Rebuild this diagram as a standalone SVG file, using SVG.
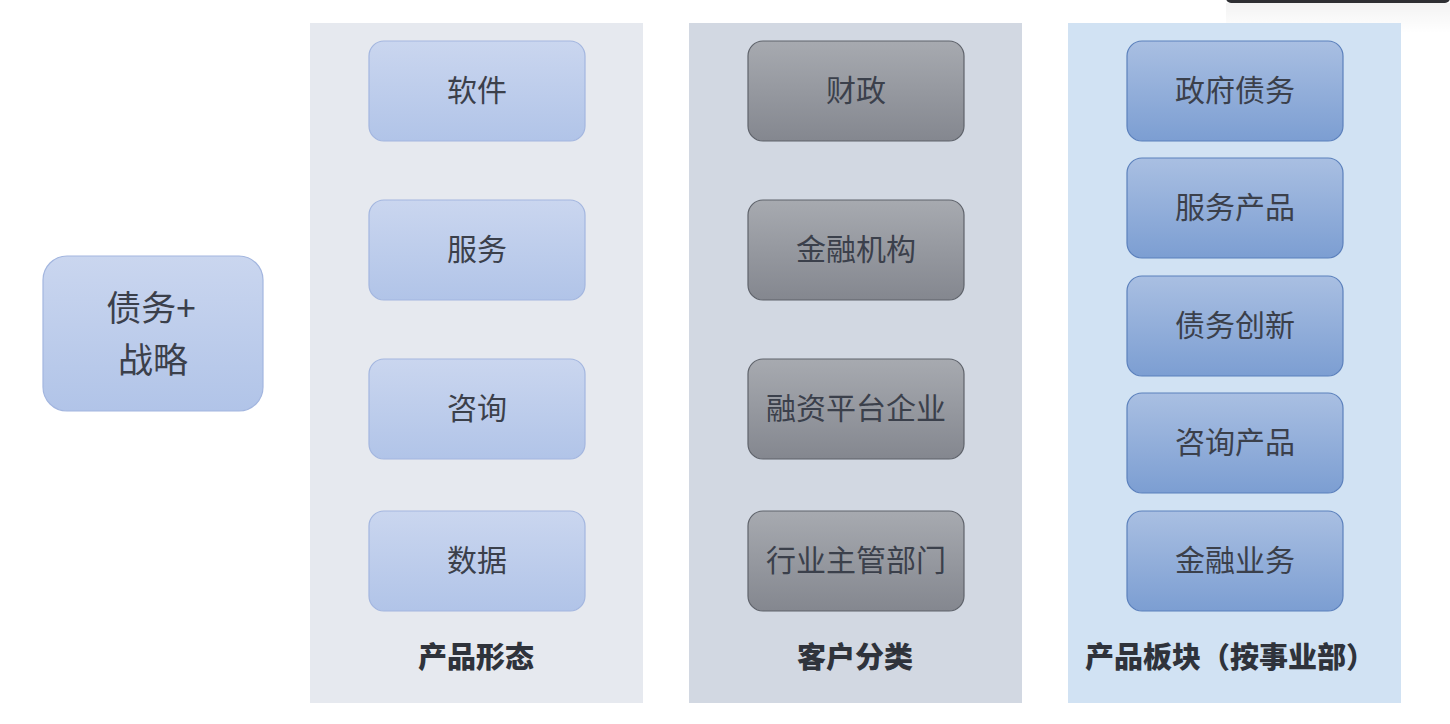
<svg xmlns="http://www.w3.org/2000/svg" width="1450" height="724" viewBox="0 0 1450 724">
<defs>
<linearGradient id="gBlue" x1="0" y1="0" x2="0" y2="1"><stop offset="0" stop-color="#cad6ef"/><stop offset="1" stop-color="#b1c4e8"/></linearGradient>
<linearGradient id="gGrey" x1="0" y1="0" x2="0" y2="1"><stop offset="0" stop-color="#a7aab0"/><stop offset="1" stop-color="#84878f"/></linearGradient>
<linearGradient id="gDeep" x1="0" y1="0" x2="0" y2="1"><stop offset="0" stop-color="#a9bfe2"/><stop offset="1" stop-color="#7c9ed2"/></linearGradient>
<linearGradient id="gTop" x1="0" y1="0" x2="0" y2="1"><stop offset="0" stop-color="#000" stop-opacity="0.08"/><stop offset="1" stop-color="#000" stop-opacity="0"/></linearGradient>
</defs>
<style>
text{font-family:"Noto Sans CJK SC","Noto Sans",sans-serif;text-anchor:middle;dominant-baseline:central;fill:#3b404b}
.t{font-size:30px}
.big{font-size:35px}
.lab{font-size:29px;font-weight:900;fill:#2f333b}
.b1{fill:url(#gBlue);stroke:#a3b6df;stroke-width:1.2}
.b2{fill:url(#gGrey);stroke:#5f636b;stroke-width:1.2}
.b3{fill:url(#gDeep);stroke:#5b80bc;stroke-width:1.2}
</style>
<rect width="1450" height="724" fill="#fff"/>
<rect x="1226" y="-8" width="224" height="11" rx="5" fill="#2e2f33"/>
<rect x="1226" y="3" width="224" height="30" fill="url(#gTop)" opacity="0.6"/>
<g id="panel1"><rect x="310" y="23" width="333" height="680" fill="#e6e9ef"/><text class="lab" x="476" y="655">产品形态</text></g>
<g id="panel2"><rect x="689" y="23" width="333" height="680" fill="#d2d8e2"/><text class="lab" x="855" y="655">客户分类</text></g>
<g id="panel3"><rect x="1068" y="23" width="333" height="680" fill="#d1e2f3"/><text class="lab" x="1230" y="655">产品板块（按事业部）</text></g>
<g id="root"><rect class="b1" x="43" y="256" width="220" height="155" rx="24"/><text class="big"><tspan x="151" y="305">债务+</tspan><tspan x="153" y="357">战略</tspan></text></g>
<g id="n-software"><rect class="b1" x="369" y="41" width="216" height="100" rx="15"/><text class="t" x="477" y="88">软件</text></g>
<g id="n-service"><rect class="b1" x="369" y="200" width="216" height="100" rx="15"/><text class="t" x="477" y="247">服务</text></g>
<g id="n-consult"><rect class="b1" x="369" y="359" width="216" height="100" rx="15"/><text class="t" x="477" y="406">咨询</text></g>
<g id="n-data"><rect class="b1" x="369" y="511" width="216" height="100" rx="15"/><text class="t" x="477" y="558">数据</text></g>
<g id="c-finance"><rect class="b2" x="748" y="41" width="216" height="100" rx="15"/><text class="t" x="856" y="88">财政</text></g>
<g id="c-fininst"><rect class="b2" x="748" y="200" width="216" height="100" rx="15"/><text class="t" x="856" y="247">金融机构</text></g>
<g id="c-platform"><rect class="b2" x="748" y="359" width="216" height="100" rx="15"/><text class="t" x="856" y="406">融资平台企业</text></g>
<g id="c-industry"><rect class="b2" x="748" y="511" width="216" height="100" rx="15"/><text class="t" x="856" y="558">行业主管部门</text></g>
<g id="p-govdebt"><rect class="b3" x="1127" y="41" width="216" height="100" rx="15"/><text class="t" x="1235" y="88">政府债务</text></g>
<g id="p-service"><rect class="b3" x="1127" y="158" width="216" height="100" rx="15"/><text class="t" x="1235" y="205">服务产品</text></g>
<g id="p-innov"><rect class="b3" x="1127" y="276" width="216" height="100" rx="15"/><text class="t" x="1235" y="323">债务创新</text></g>
<g id="p-consult"><rect class="b3" x="1127" y="393" width="216" height="100" rx="15"/><text class="t" x="1235" y="440">咨询产品</text></g>
<g id="p-finbiz"><rect class="b3" x="1127" y="511" width="216" height="100" rx="15"/><text class="t" x="1235" y="558">金融业务</text></g>
<g id="connectors"></g>
</svg>
